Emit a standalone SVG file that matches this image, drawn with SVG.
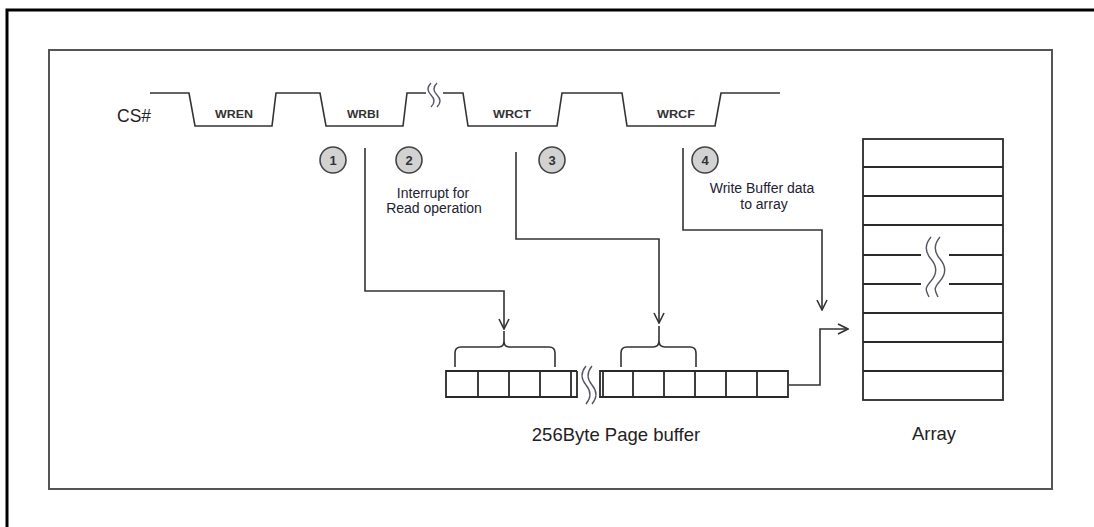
<svg xmlns="http://www.w3.org/2000/svg" width="1094" height="527" viewBox="0 0 1094 527">
<style>
.ln{fill:none;stroke:#333;stroke-width:1.6}
.cell{fill:none;stroke:#2a2a2a;stroke-width:1.8}
.sq{fill:none;stroke:#556;stroke-width:1.4}
.t{font-family:"Liberation Sans",Arial,sans-serif;fill:#222}
.sig{font-family:"Liberation Sans",Arial,sans-serif;font-weight:bold;font-size:11px;fill:#333;text-anchor:middle}
.lbl{font-family:"Liberation Sans",Arial,sans-serif;font-size:14px;fill:#223;text-anchor:middle}
.big{font-family:"Liberation Sans",Arial,sans-serif;font-size:18.5px;fill:#222;text-anchor:middle}
.num{fill:#d2d2d2;stroke:#444;stroke-width:1.6}
.numt{font-family:"Liberation Sans",Arial,sans-serif;font-weight:bold;font-size:13px;fill:#333;text-anchor:middle}
</style>
<defs>
<marker id="arr" viewBox="0 0 12 12" refX="11" refY="6" markerWidth="12" markerHeight="12" markerUnits="userSpaceOnUse" orient="auto">
<path d="M1,1 L11,6 L1,11" fill="none" stroke="#333" stroke-width="1.6"/>
</marker>
</defs>
<rect width="1094" height="527" fill="#fff"/>
<path d="M7,527 L7,10 L1094,10" fill="none" stroke="#000" stroke-width="3"/>
<rect x="49" y="50" width="1003" height="439" fill="none" stroke="#555" stroke-width="2"/>

<g id="cs-signal">
<text class="t" x="117" y="122" font-size="17.5">CS#</text>
<path class="ln" d="M150,93 L189,93 L195,126 L272,126 L276,93 L320,93 L326,126 L403,126 L407,93 L426,93"/>
<path class="ln" d="M443,93 L463,93 L468,126 L557,126 L562,93 L622,93 L627,126 L715,126 L721,93 L780,93"/>
<path class="sq" d="M431,83 c-4,4 -4,8 0,12 s4,8 0,12"/>
<path class="sq" d="M437,83 c-4,4 -4,8 0,12 s4,8 0,12"/>
<text class="sig" x="234" y="118" textLength="38" lengthAdjust="spacingAndGlyphs">WREN</text>
<text class="sig" x="363" y="118" textLength="32" lengthAdjust="spacingAndGlyphs">WRBI</text>
<text class="sig" x="512" y="118" textLength="38" lengthAdjust="spacingAndGlyphs">WRCT</text>
<text class="sig" x="676" y="118" textLength="38" lengthAdjust="spacingAndGlyphs">WRCF</text>
</g>

<g id="step1"><circle class="num" cx="333" cy="160" r="13"/><text class="numt" x="333" y="165">1</text></g>
<g id="step2"><circle class="num" cx="409" cy="160" r="13"/><text class="numt" x="409" y="165">2</text>
<text class="lbl" x="433" y="198">Interrupt for</text><text class="lbl" x="434" y="213">Read operation</text></g>
<g id="step3"><circle class="num" cx="552" cy="160" r="13"/><text class="numt" x="552" y="165">3</text></g>
<g id="step4"><circle class="num" cx="705" cy="160" r="13"/><text class="numt" x="705" y="165">4</text>
<text class="lbl" x="762" y="193">Write Buffer data</text><text class="lbl" x="764" y="209">to array</text></g>

<g id="connectors">
<path class="ln" d="M365,148 L365,291 L504,291 L504,329" marker-end="url(#arr)"/>
<path class="ln" d="M516,152 L516,239 L659,239 L659,323" marker-end="url(#arr)"/>
<path class="ln" d="M683,148 L683,230 L822,230 L822,310" marker-end="url(#arr)"/>
<path class="ln" d="M789,385 L820,385 L820,329 L848,329" marker-end="url(#arr)"/>
</g>

<g id="page-buffer">
<path class="ln" d="M455,367 L455,353 Q455,347 461,347 L499,347 Q504,347 504,341 L504,331 M504,341 Q504,347 509,347 L549,347 Q555,347 555,353 L555,367"/>
<path class="ln" d="M621,367 L621,353 Q621,347 627,347 L653,347 Q659,347 659,341 L659,326 M659,341 Q659,347 665,347 L690,347 Q696,347 696,353 L696,367"/>
<path class="cell" d="M577,371 L446,371 L446,397 L577,397 L577,371 M478,371 L478,397 M509,371 L509,397 M540,371 L540,397 M571,371 L571,397"/>
<path class="cell" d="M600,371 L788,371 L788,397 L600,397 Z M603,371 L603,397 M633,371 L633,397 M664,371 L664,397 M695,371 L695,397 M726,371 L726,397 M757,371 L757,397"/>
<path class="sq" d="M586,366 c-5,6 -5,13 0,19 s5,13 0,19"/>
<path class="sq" d="M592,366 c-5,6 -5,13 0,19 s5,13 0,19"/>
<text class="big" x="616" y="441">256Byte Page buffer</text>
</g>

<g id="array">
<rect class="cell" x="863" y="139" width="140" height="261"/>
<path class="cell" d="M863,167 L1003,167 M863,196 L1003,196 M863,225 L1003,225 M863,255 L921,255 M949,255 L1003,255 M863,284 L921,284 M949,284 L1003,284 M863,313 L1003,313 M863,342 L1003,342 M863,371 L1003,371"/>
<path class="sq" d="M931,237 c-6,7 -6,15 0,22 s6,15 0,22 s-6,8 -2,16"/>
<path class="sq" d="M940,237 c-6,7 -6,15 0,22 s6,15 0,22 s-6,8 -2,16"/>
<text class="big" x="934" y="440">Array</text>
</g>
</svg>
